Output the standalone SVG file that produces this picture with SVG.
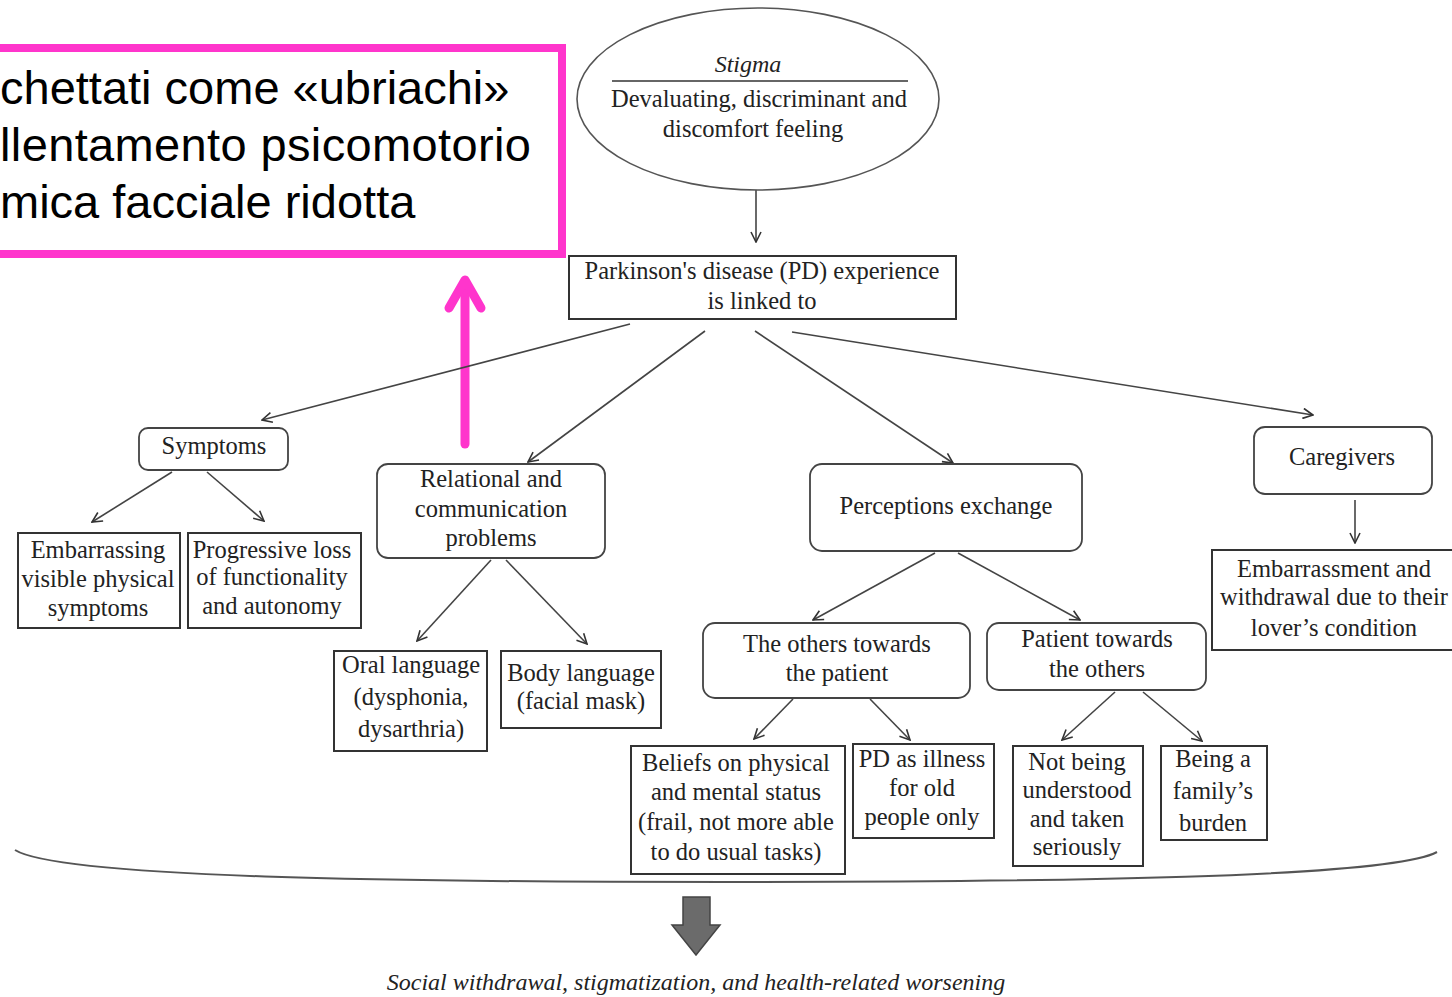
<svg xmlns="http://www.w3.org/2000/svg" width="1452" height="997" viewBox="0 0 1452 997">
<defs>
<style>
.t{font-family:"Liberation Serif","DejaVu Serif",serif;font-size:24.5px;fill:#222;text-anchor:middle}
.it{font-style:italic;font-size:24px}
.box{fill:#fff;stroke:#333;stroke-width:2}
.rbox{fill:#fff;stroke:#444;stroke-width:1.8}
.c{fill:none;stroke:#444;stroke-width:1.6;marker-end:url(#ah)}
.pk{font-family:"Liberation Sans",Arial,sans-serif;font-size:47px;fill:#000}
</style>
<marker id="ah" viewBox="0 0 12 12" refX="11" refY="6" markerWidth="12" markerHeight="12" markerUnits="userSpaceOnUse" orient="auto">
<path d="M1,1 L11,6 L1,11" fill="none" stroke="#333" stroke-width="1.6"/>
</marker>
</defs>
<rect width="1452" height="997" fill="#fff"/>

<g id="callout">
<rect x="-20" y="48" width="582" height="206" fill="#fff" stroke="#ff35cc" stroke-width="8"/>
<text class="pk" x="0" y="104">chettati come «ubriachi»</text>
<text class="pk" x="0" y="161" textLength="531" lengthAdjust="spacing">llentamento psicomotorio</text>
<text class="pk" x="0" y="218">mica facciale ridotta</text>
</g>

<g id="pink-arrow" fill="none" stroke="#ff35cc" stroke-width="9" stroke-linecap="round" stroke-linejoin="round">
<line x1="465" y1="444" x2="465" y2="284"/>
<polyline points="449,308 465,280 481,308"/>
</g>

<g id="connectors">
<line class="c" x1="756" y1="190" x2="756" y2="242"/>
<line class="c" x1="630" y1="324" x2="262" y2="420"/>
<line class="c" x1="705" y1="331" x2="528" y2="462"/>
<line class="c" x1="755" y1="331" x2="953" y2="463"/>
<line class="c" x1="792" y1="332" x2="1313" y2="415"/>
<line class="c" x1="172" y1="472" x2="92" y2="522"/>
<line class="c" x1="207" y1="472" x2="264" y2="521"/>
<line class="c" x1="491" y1="560" x2="417" y2="641"/>
<line class="c" x1="506" y1="560" x2="587" y2="644"/>
<line class="c" x1="935" y1="553" x2="813" y2="620"/>
<line class="c" x1="958" y1="553" x2="1080" y2="620"/>
<line class="c" x1="793" y1="699" x2="754" y2="739"/>
<line class="c" x1="870" y1="699" x2="910" y2="740"/>
<line class="c" x1="1115" y1="692" x2="1062" y2="740"/>
<line class="c" x1="1143" y1="692" x2="1202" y2="741"/>
<line class="c" x1="1355" y1="500" x2="1355" y2="543"/>
<path d="M15,850 C60,878 400,882 725,882 C1050,882 1390,878 1437,852" fill="none" stroke="#555" stroke-width="2"/>
<path d="M683,897 L710,897 L710,925 L720,925 L696,955 L672,925 L683,925 Z" fill="#6b6b6b" stroke="#444" stroke-width="1.5"/>
</g>

<g id="stigma">
<ellipse cx="758" cy="99" rx="181" ry="91" fill="#fff" stroke="#555" stroke-width="1.6"/>
<text class="t it" x="748" y="72">Stigma</text>
<line x1="612" y1="81" x2="908" y2="81" stroke="#333" stroke-width="1.6"/>
<text class="t" x="759" y="107">Devaluating, discriminant and</text>
<text class="t" x="753" y="137">discomfort feeling</text>
</g>

<g id="pd">
<rect class="box" x="569" y="256" width="387" height="63"/>
<text class="t" x="762" y="279">Parkinson's disease (PD) experience</text>
<text class="t" x="762" y="309">is linked to</text>
</g>

<g id="symptoms">
<rect class="rbox" x="139" y="428" width="149" height="42" rx="9"/>
<text class="t" x="214" y="454">Symptoms</text>
</g>

<g id="embarrassing">
<rect class="box" x="18" y="533" width="162" height="95"/>
<text class="t" x="98" y="558">Embarrassing</text>
<text class="t" x="98" y="587">visible physical</text>
<text class="t" x="98" y="616">symptoms</text>
</g>

<g id="progressive">
<rect class="box" x="188" y="533" width="173" height="95"/>
<text class="t" x="272" y="558">Progressive loss</text>
<text class="t" x="272" y="585">of functionality</text>
<text class="t" x="272" y="614">and autonomy</text>
</g>

<g id="relational">
<rect class="rbox" x="377" y="464" width="228" height="94" rx="11"/>
<text class="t" x="491" y="487">Relational and</text>
<text class="t" x="491" y="517">communication</text>
<text class="t" x="491" y="546">problems</text>
</g>

<g id="oral">
<rect class="box" x="334" y="651" width="153" height="100"/>
<text class="t" x="411" y="673">Oral language</text>
<text class="t" x="411" y="705">(dysphonia,</text>
<text class="t" x="411" y="737">dysarthria)</text>
</g>

<g id="body">
<rect class="box" x="501" y="651" width="160" height="77"/>
<text class="t" x="581" y="681">Body language</text>
<text class="t" x="581" y="709">(facial mask)</text>
</g>

<g id="perceptions">
<rect class="rbox" x="810" y="464" width="272" height="87" rx="12"/>
<text class="t" x="946" y="514">Perceptions exchange</text>
</g>

<g id="others">
<rect class="rbox" x="703" y="623" width="267" height="75" rx="12"/>
<text class="t" x="837" y="652">The others towards</text>
<text class="t" x="837" y="681">the patient</text>
</g>

<g id="patient">
<rect class="rbox" x="987" y="623" width="219" height="67" rx="12"/>
<text class="t" x="1097" y="647">Patient towards</text>
<text class="t" x="1097" y="677">the others</text>
</g>

<g id="beliefs">
<rect class="box" x="631" y="746" width="214" height="128"/>
<text class="t" x="736" y="771">Beliefs on physical</text>
<text class="t" x="736" y="800">and mental status</text>
<text class="t" x="736" y="830">(frail, not more able</text>
<text class="t" x="736" y="860">to do usual tasks)</text>
</g>

<g id="illness">
<rect class="box" x="853" y="744" width="141" height="94"/>
<text class="t" x="922" y="767">PD as illness</text>
<text class="t" x="922" y="796">for old</text>
<text class="t" x="922" y="825">people only</text>
</g>

<g id="understood">
<rect class="box" x="1013" y="746" width="130" height="120"/>
<text class="t" x="1077" y="770">Not being</text>
<text class="t" x="1077" y="798">understood</text>
<text class="t" x="1077" y="827">and taken</text>
<text class="t" x="1077" y="855">seriously</text>
</g>

<g id="burden">
<rect class="box" x="1161" y="746" width="106" height="94"/>
<text class="t" x="1213" y="767">Being a</text>
<text class="t" x="1213" y="799">family’s</text>
<text class="t" x="1213" y="831">burden</text>
</g>

<g id="caregivers">
<rect class="rbox" x="1254" y="427" width="178" height="67" rx="11"/>
<text class="t" x="1342" y="465">Caregivers</text>
</g>

<g id="embarrassment">
<rect class="box" x="1212" y="550" width="250" height="100"/>
<text class="t" x="1334" y="577">Embarrassment and</text>
<text class="t" x="1334" y="605">withdrawal due to their</text>
<text class="t" x="1334" y="636">lover’s condition</text>
</g>

<g id="outcome">
<text class="t it" x="696" y="990">Social withdrawal, stigmatization, and health-related worsening</text>
</g>
</svg>
